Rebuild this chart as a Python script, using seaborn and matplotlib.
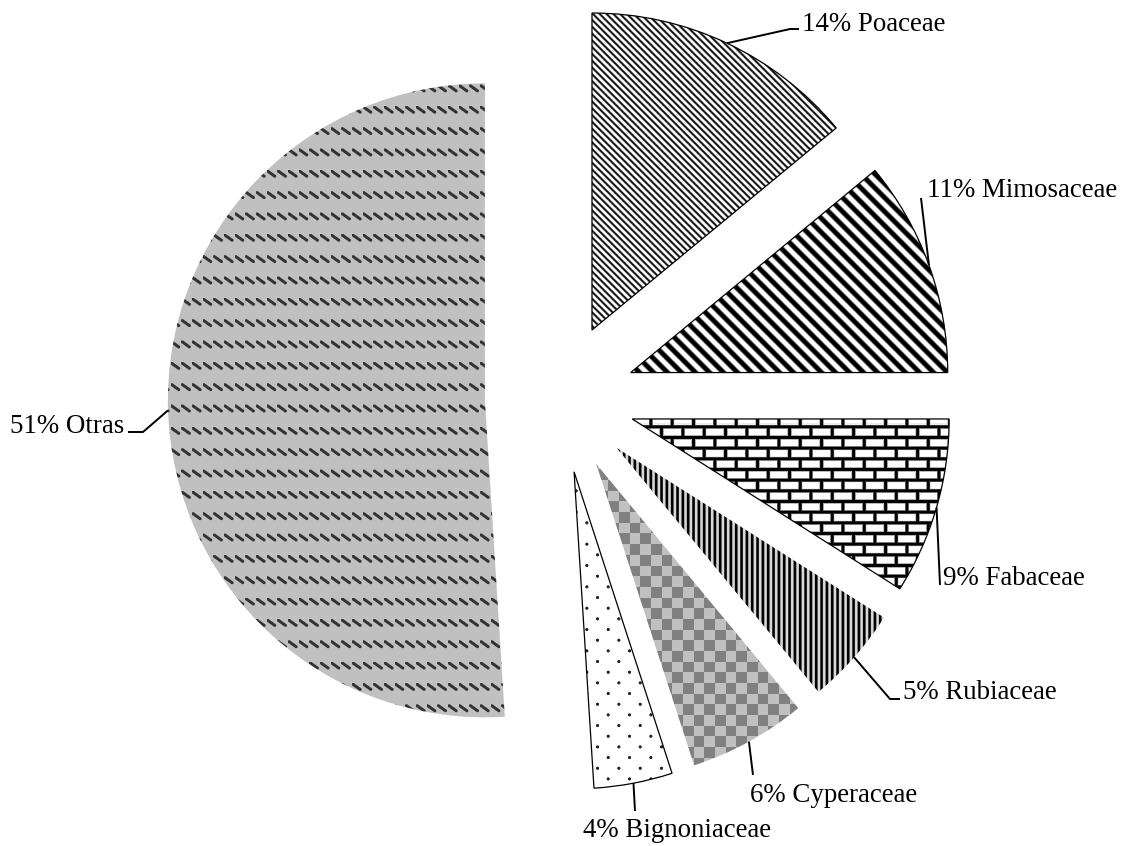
import numpy as np
import matplotlib
matplotlib.use("Agg")
import matplotlib.pyplot as plt
import seaborn as sns

# Plant families and their share of species (%)
families = ["Poaceae", "Mimosaceae", "Fabaceae", "Rubiaceae",
            "Cyperaceae", "Bignoniaceae", "Otras"]
percent = [14, 11, 9, 5, 6, 4, 51]

sns.set_theme(style="white")
plt.rcParams["font.family"] = ["Liberation Serif", "DejaVu Serif"]

W, H = 1129, 846            # canvas in pixels
CX, CY = 560, 398           # pie centre in pixels (y measured downward)
R = 317                     # pie radius in pixels


def px(x, y):
    """Pixel position (y downward) -> data units of a unit-radius pie."""
    return (x - CX) / R, (CY - y) / R


fig = plt.figure(figsize=(W / 100, H / 100), dpi=100)
ax = fig.add_axes([0, 0, 1, 1])

wedges, _ = ax.pie(percent, startangle=90, counterclock=False, radius=1,
                   center=(0, 0), explode=[0.237] * len(percent),
                   colors=["none"] * len(percent),
                   wedgeprops=dict(linewidth=0))

x0, y1 = px(0, 0)
x1, y0 = px(W, H)
ax.set_xlim(x0, x1)
ax.set_ylim(y0, y1)
ax.set_aspect("equal")
ax.set_axis_off()

# ---- fill textures, defined on the pixel grid -------------------------
X, Y = np.meshgrid(np.arange(W) + 0.5, np.arange(H) + 0.5)
u = 10.67


def diag_stripes(period, base, amp):
    c = np.cos(2 * np.pi * (X - Y) / period)
    return np.clip(base - amp * c, 0, 1)


def vert_stripes(period):
    c = np.cos(2 * np.pi * X / period)
    return np.clip(0.42 - 0.65 * c, 0.0, 0.85)


def bricks(w, h):
    row = np.floor(Y / h)
    yy = Y - row * h
    xx = np.mod(X + (row % 2) * w / 2, w)
    d = np.minimum(np.minimum(yy, h - yy), np.minimum(xx, w - xx))
    return np.clip((d - 1.0) / 1.4, 0, 1)


def checker(s):
    k = (np.floor(X / s) + np.floor(Y / s)) % 2
    return np.where(k == 0, 0.50, 0.75)


def dots(step):
    a = (X + Y) / (2 * step)
    b = (X - Y) / (2 * step)
    da = a - np.round(a)
    db = b - np.round(b)
    d = np.hypot(step * (da + db), step * (da - db))
    return np.clip(0.15 + (d - 1.2) / 0.9, 0.15, 1)


def dashes(step):
    xx = np.mod(X, step)
    yy = np.mod(Y, 2 * step)
    ax_, ay_, bx_, by_ = 1.0, 1.5, 8.0, 6.5
    vx, vy = bx_ - ax_, by_ - ay_
    t = np.clip(((xx - ax_) * vx + (yy - ay_) * vy) / (vx * vx + vy * vy), 0, 1)
    d = np.hypot(xx - ax_ - t * vx, yy - ay_ - t * vy)
    dark = np.clip(2.0 - d, 0, 1)
    return 0.75 - 0.55 * dark


textures = {
    "Poaceae": diag_stripes(6.8, 0.66, 0.62),
    "Mimosaceae": diag_stripes(14.0, 0.5, 1.0),
    "Fabaceae": bricks(2 * u, u),
    "Rubiaceae": vert_stripes(u / 2),
    "Cyperaceae": checker(u),
    "Bignoniaceae": dots(u),
    "Otras": dashes(u),
}
outlined = {"Poaceae", "Mimosaceae", "Fabaceae", "Bignoniaceae"}

for name, w in zip(families, wedges):
    img = ax.imshow(textures[name], cmap="gray", vmin=0, vmax=1,
                    extent=(x0, x1, y0, y1), origin="upper",
                    interpolation="nearest", zorder=0.5)
    img.set_clip_path(w)
    if name in outlined:
        w.set_edgecolor("black")
        w.set_linewidth(0.9)

# ---- labels with leader lines ----------------------------------------
# text anchor (pixels), alignment, leader bend points after the arc
label_layout = {
    "Poaceae":      ((802, 31), "left",  [(790, 29), (799, 29)]),
    "Mimosaceae":   ((927, 197), "left", [(921, 198)]),
    "Fabaceae":     ((943, 585), "left", [(940, 585)]),
    "Rubiaceae":    ((903, 699), "left", [(890, 699), (900, 699)]),
    "Cyperaceae":   ((750, 802), "left", [(753, 775)]),
    "Bignoniaceae": ((583, 837), "left", [(635, 811)]),
    "Otras":        ((124, 433), "right", [(143, 432), (128, 432)]),
}

for name, pct, w in zip(families, percent, wedges):
    (tx, ty), ha, bends = label_layout[name]
    mid = np.deg2rad(0.5 * (w.theta1 + w.theta2))
    sx = w.center[0] + w.r * np.cos(mid)
    sy = w.center[1] + w.r * np.sin(mid)
    pts = [(sx, sy)] + [px(bx, by) for bx, by in bends]
    ax.plot([p[0] for p in pts], [p[1] for p in pts], color="black",
            lw=1.4, solid_capstyle="butt", zorder=3)
    lx, ly = px(tx, ty)
    ax.text(lx, ly, f"{pct}% {name}", ha=ha, va="baseline",
            fontsize=19.4, color="black", zorder=4)

fig.savefig("out.png", dpi=100)
